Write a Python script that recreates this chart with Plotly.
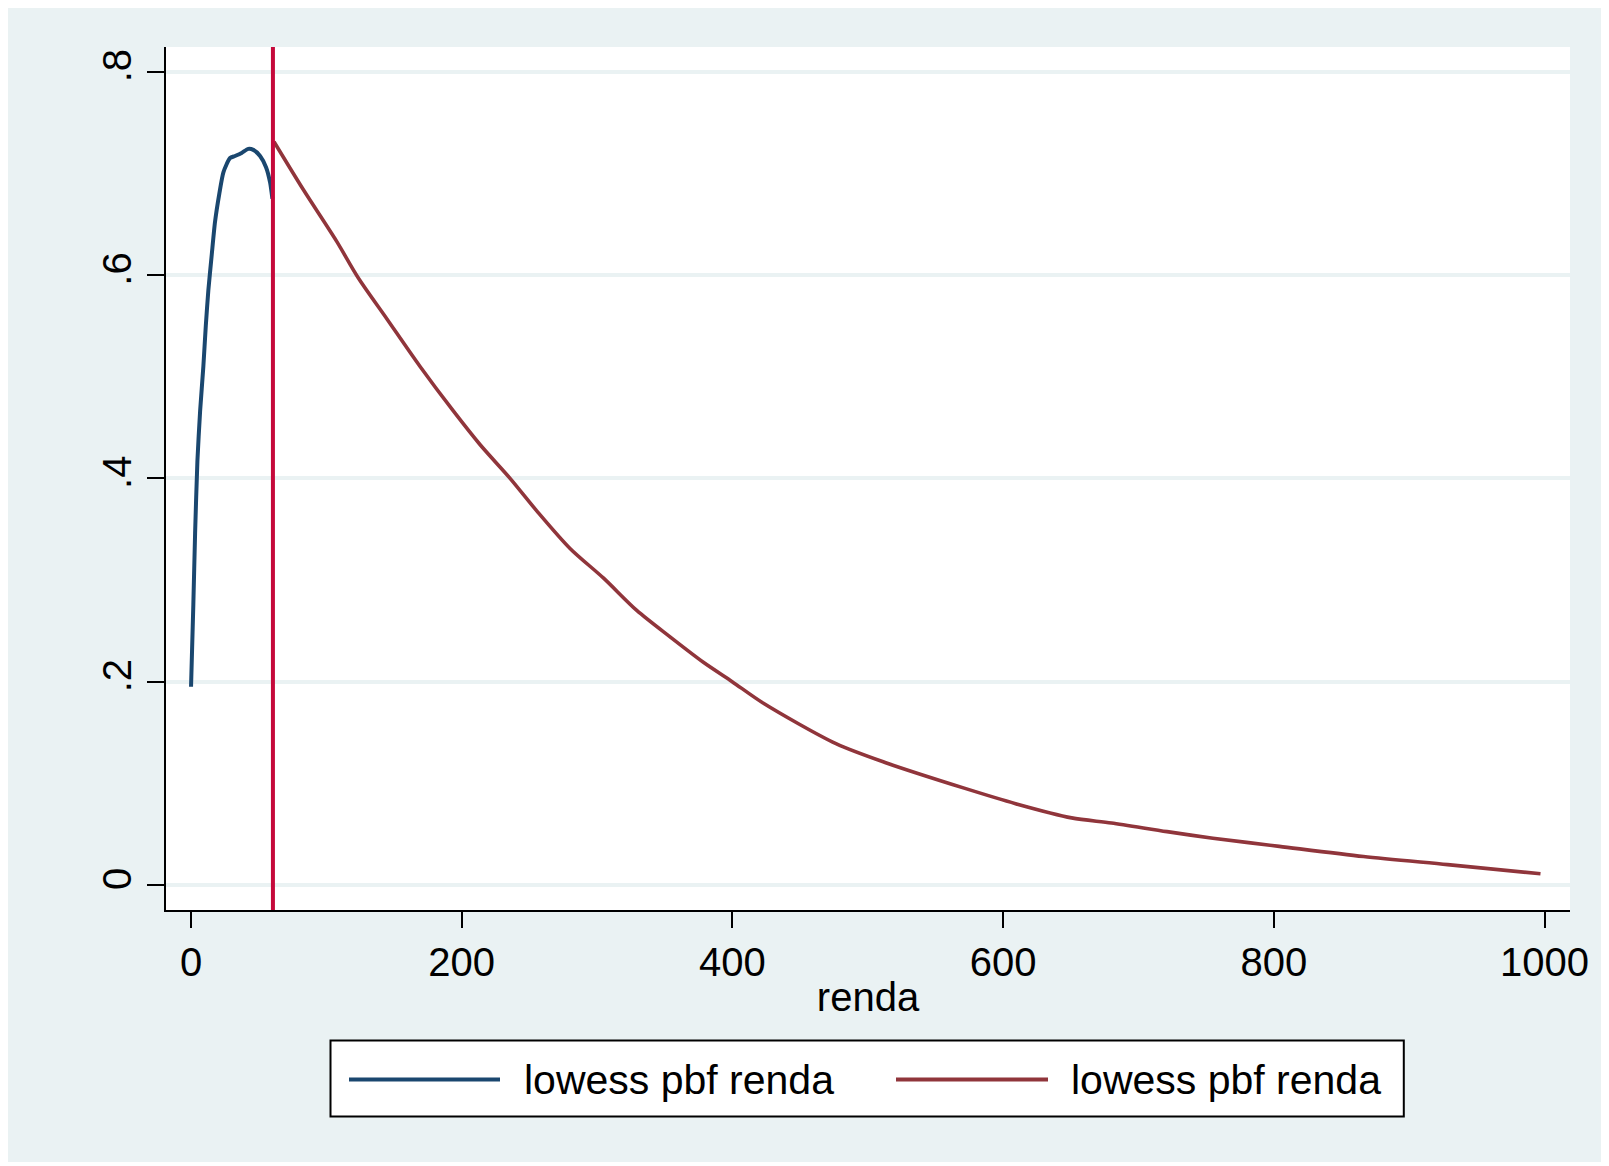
import plotly.graph_objects as go

# ---- data ----
blue_x = [0, 1.7, 3.0, 4.7, 6.7, 9.1, 10.9, 12.8, 15.3, 17.7, 20.9, 23.9, 28.8, 32.5,
          37.4, 42.3, 46, 51, 55.4, 58.4, 60.1]
blue_y = [0.195, 0.276, 0.346, 0.417, 0.466, 0.510, 0.550, 0.585, 0.620, 0.652, 0.680,
          0.701, 0.715, 0.717, 0.720, 0.724, 0.723, 0.717, 0.706, 0.691, 0.675]

red_x = [61.3, 82.9, 107.6, 123.6, 144.6, 169.2, 193.9, 213.6, 235.7, 255.4, 280, 304.6,
         329.3, 353.9, 378.5, 399.8, 422.6, 476.5, 513.8, 571.8, 609.2, 650.6, 680,
         721.1, 755, 804, 866.2, 928.4, 997]
red_y = [0.731, 0.684, 0.633, 0.597, 0.557, 0.510, 0.466, 0.433, 0.400, 0.368, 0.331,
         0.302, 0.270, 0.244, 0.219, 0.200, 0.179, 0.139, 0.120, 0.095, 0.080, 0.066,
         0.061, 0.0525, 0.046, 0.038, 0.028, 0.020, 0.011]

cutoff_x = 60.5

x_ticks = [0, 200, 400, 600, 800, 1000]
y_ticks = [0, 0.2, 0.4, 0.6, 0.8]
y_ticktext = ["0", ".2", ".4", ".6", ".8"]

series_names = ["lowess pbf renda", "lowess pbf renda"]
x_title = "renda"

# ---- styling ----
BLUE = "#1A476F"
MAROON = "#90353B"
CRIMSON = "#C5093B"
BG = "#EAF2F3"
FONT = "Liberation Sans, Arial, sans-serif"
FS = 40
FS_LEG = 41

# page is rendered with an 8px body margin; work in page pixels and shift
OFF = 8
PAGE_W, PAGE_H = 1609, 1166
W, H = PAGE_W - OFF, PAGE_H - OFF
L, R, T, B = 166, 1570, 47, 910  # plot area in page pixels
PW, PH = R - L, B - T


def px(xp):
    return (xp - L) / PW


def py(yp):
    return (B - yp) / PH


fig = go.Figure()
fig.add_trace(go.Scatter(x=blue_x, y=blue_y, mode="lines", name=series_names[0],
                         line=dict(color=BLUE, width=4, shape="spline", smoothing=0.6),
                         showlegend=False))
fig.add_trace(go.Scatter(x=red_x, y=red_y, mode="lines", name=series_names[1],
                         line=dict(color=MAROON, width=3.6, shape="spline", smoothing=0.8),
                         showlegend=False))

shapes = []
# vertical cutoff line
shapes.append(dict(type="line", xref="x", yref="paper", x0=cutoff_x, x1=cutoff_x,
                   y0=0, y1=1, line=dict(color=CRIMSON, width=4), layer="above"))
# white outer border strips (right and bottom)
for (x0, x1, y0, y1) in [(1603, PAGE_W + 2, 0, PAGE_H + 2), (0, PAGE_W + 2, 1162, PAGE_H + 2)]:
    shapes.append(dict(type="rect", xref="paper", yref="paper",
                       x0=px(x0), x1=px(x1), y0=py(y1), y1=py(y0),
                       fillcolor="white", line=dict(width=0), layer="above"))
# custom legend box
shapes.append(dict(type="rect", xref="paper", yref="paper",
                   x0=px(330.5), x1=px(1403.8), y0=py(1116.5), y1=py(1040.5),
                   fillcolor="white", line=dict(color="black", width=2), layer="above"))
leg_y = py(1079.5)
shapes.append(dict(type="line", xref="paper", yref="paper", x0=px(349), x1=px(500),
                   y0=leg_y, y1=leg_y, line=dict(color=BLUE, width=4), layer="above"))
shapes.append(dict(type="line", xref="paper", yref="paper", x0=px(896), x1=px(1048),
                   y0=leg_y, y1=leg_y, line=dict(color=MAROON, width=4), layer="above"))

annotations = [
    dict(xref="paper", yref="paper", x=px(522), y=leg_y, text=series_names[0],
         showarrow=False, xanchor="left", yanchor="middle",
         font=dict(family=FONT, size=FS_LEG, color="black")),
    dict(xref="paper", yref="paper", x=px(1069), y=leg_y, text=series_names[1],
         showarrow=False, xanchor="left", yanchor="middle",
         font=dict(family=FONT, size=FS_LEG, color="black")),
]

fig.update_layout(
    width=W, height=H,
    margin=dict(l=L - OFF, r=PAGE_W - R, t=T - OFF, b=PAGE_H - B, pad=0),
    paper_bgcolor=BG, plot_bgcolor="white",
    font=dict(family=FONT, size=FS, color="black"),
    showlegend=False,
    shapes=shapes, annotations=annotations,
    xaxis=dict(range=[-18.5, 1018.8], tickvals=x_ticks, ticks="outside", ticklen=16,
               tickwidth=2, tickcolor="black", showline=True, linecolor="black",
               linewidth=2, mirror=False, showgrid=False, zeroline=False,
               tickfont=dict(family=FONT, size=FS, color="black"),
               title=dict(text=x_title, font=dict(family=FONT, size=FS, color="black"),
                          standoff=0)),
    yaxis=dict(range=[-0.0246, 0.8242], tickvals=y_ticks, ticktext=y_ticktext,
               ticks="outside", ticklen=17, tickwidth=2, tickcolor="black",
               showline=True, linecolor="black", linewidth=2, mirror=False,
               showgrid=True, gridcolor=BG, gridwidth=4, zeroline=False,
               tickangle=-90, tickfont=dict(family=FONT, size=FS, color="black")),
)

fig.write_html("out.html")
